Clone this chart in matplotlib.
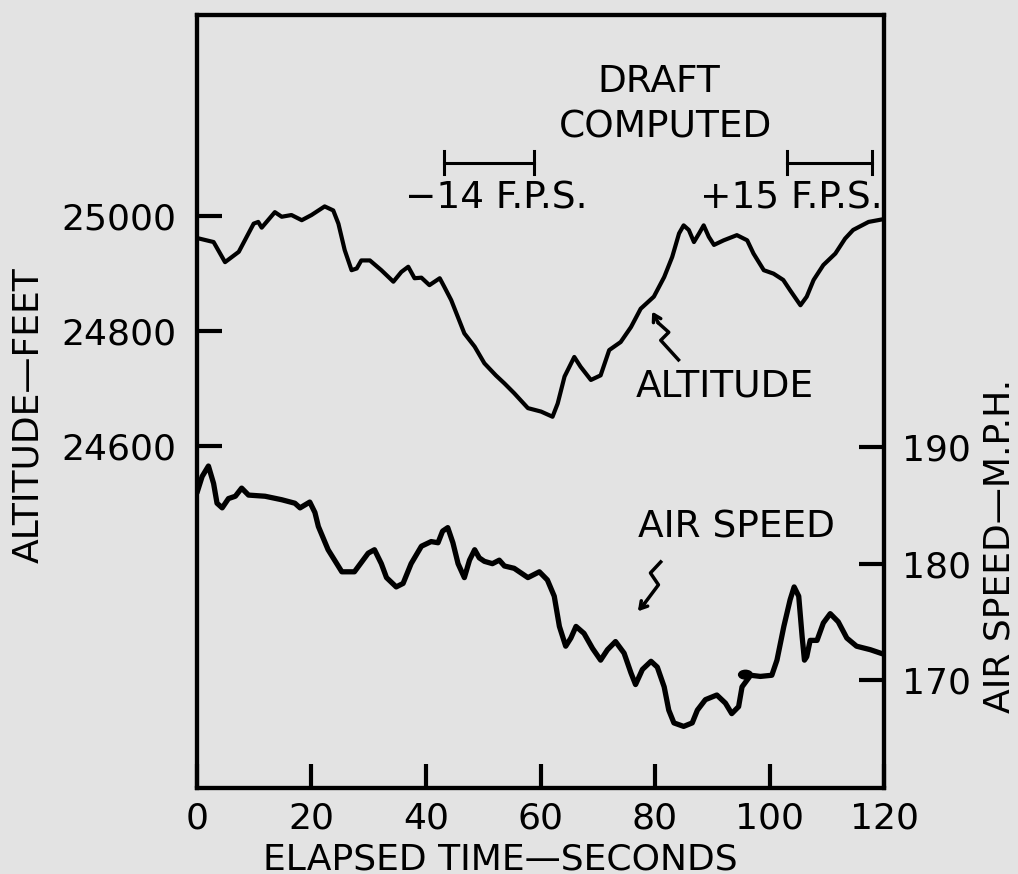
import matplotlib
matplotlib.use('Agg')
from matplotlib.pyplot import figure
from matplotlib.patches import Ellipse

# altitude trace (seconds, feet)
alt_t = [0.0, 2.9, 4.9, 7.3, 9.9, 10.7, 11.3, 13.6, 14.8, 16.5, 18.3, 20.0, 22.3, 23.8,
         24.7, 25.8, 27.0, 27.9, 28.7, 30.2, 32.2, 34.3, 35.7, 36.9, 38.0, 39.2, 40.6,
         42.4, 43.2, 44.4, 46.7, 48.5, 50.2, 52.2, 53.7, 55.4, 57.8, 60.1, 62.1, 63.0,
         64.2, 65.9, 67.0, 68.8, 70.5, 72.0, 74.0, 75.8, 77.5, 79.8, 81.6, 83.0, 84.2,
         85.0, 85.9, 86.8, 87.7, 88.5, 89.4, 90.3, 92.0, 94.3, 96.1, 97.2, 99.0, 100.7,
         102.4, 103.6, 105.4, 106.5, 107.7, 109.4, 111.5, 113.2, 114.6, 117.3, 120.0]
alt_ft = [24962, 24955, 24920, 24938, 24987, 24990, 24980, 25007, 24999, 25002, 24993,
          25002, 25017, 25010, 24987, 24941, 24906, 24909, 24923, 24923, 24906, 24886,
          24903, 24912, 24892, 24893, 24880, 24892, 24877, 24854, 24796, 24773, 24744,
          24723, 24709, 24692, 24666, 24660, 24651, 24674, 24721, 24755, 24738, 24715,
          24723, 24767, 24781, 24807, 24839, 24860, 24894, 24929, 24970, 24984, 24976,
          24955, 24970, 24984, 24964, 24950, 24958, 24967, 24958, 24935, 24906, 24900,
          24889, 24871, 24845, 24860, 24889, 24915, 24935, 24961, 24976, 24990, 24995]

# air speed trace (seconds, mph)
spd_t = [0.0, 0.9, 2.0, 2.9, 3.5, 4.4, 5.5, 6.7, 7.8, 9.0, 11.9, 14.8, 17.1, 18.0, 19.7,
         20.6, 21.2, 22.9, 25.3, 27.5, 29.9, 31.0, 32.2, 33.1, 34.8, 36.0, 37.4, 39.2,
         40.9, 42.1, 42.9, 43.8, 44.7, 45.6, 46.7, 47.6, 48.5, 49.3, 50.2, 51.6, 52.8,
         53.7, 55.4, 57.8, 59.8, 61.2, 62.4, 63.3, 64.4, 65.3, 66.2, 67.6, 69.1, 70.5,
         71.7, 73.1, 74.6, 75.8, 76.6, 77.8, 79.3, 80.4, 81.6, 82.4, 83.3, 85.0, 86.5,
         87.4, 88.8, 90.8, 92.3, 93.4, 94.6, 95.2, 96.7, 98.4, 100.4, 101.3, 102.5, 103.6,
         104.3, 105.1, 105.7, 106.1, 106.5, 107.1, 108.3, 109.4, 110.6, 112.0, 113.5,
         115.2, 117.6, 120.0]
spd_mph = [186.1, 187.5, 188.4, 186.9, 185.2, 184.8, 185.6, 185.8, 186.5, 185.9, 185.8,
           185.5, 185.2, 184.8, 185.3, 184.4, 183.2, 181.2, 179.3, 179.3, 180.9, 181.2,
           180.0, 178.8, 178.0, 178.3, 180.0, 181.5, 181.9, 181.8, 182.8, 183.1, 181.8,
           180.0, 178.8, 180.3, 181.2, 180.5, 180.2, 180.0, 180.3, 179.8, 179.6, 178.8,
           179.3, 178.6, 177.2, 174.6, 172.9, 173.6, 174.6, 174.0, 172.7, 171.7, 172.6,
           173.3, 172.3, 170.6, 169.6, 170.9, 171.6, 171.1, 169.4, 167.4, 166.3, 166.0,
           166.3, 167.4, 168.3, 168.7, 168.0, 167.1, 167.7, 169.4, 170.4, 170.3, 170.4,
           171.7, 174.6, 176.9, 178.0, 177.2, 173.7, 171.7, 172.0, 173.4, 173.4, 174.9,
           175.7, 175.0, 173.6, 172.9, 172.6, 172.2]

x_ticks = [0, 20, 40, 60, 80, 100, 120]
alt_ticks = [24600, 24800, 25000]
spd_ticks = [170, 180, 190]

# draft intervals marked above the plot (seconds)
draft_neg = [43.2, 58.9]
draft_pos = [103.1, 117.9]

bg = '#e3e3e3'
fs = 26
afs = 27

fig = figure(figsize=(10.18, 8.74), dpi=100, facecolor=bg)
ax = fig.add_axes([0.1935, 0.0984, 0.6749, 0.8844], facecolor=bg)
ax2 = ax.twinx()

ax.plot(alt_t, alt_ft, 'k-', lw=3.0, solid_joinstyle='round', solid_capstyle='round')
ax2.plot(spd_t, spd_mph, 'k-', lw=3.8, solid_joinstyle='round', solid_capstyle='round')
ax2.add_patch(Ellipse((95.8, 170.45), 2.4, 0.75, color='k'))

ax.set_xticks(x_ticks)
ax.set_yticks(alt_ticks)
ax2.set_yticks(spd_ticks)
ax.set_xticklabels([str(v) for v in x_ticks])
ax.set_yticklabels([str(v) for v in alt_ticks])
ax2.set_yticklabels([str(v) for v in spd_ticks])

ax.tick_params(axis='x', direction='in', length=17, width=3, labelsize=fs, pad=10)
ax.tick_params(axis='y', direction='in', length=18, width=3, labelsize=fs, pad=15)
ax2.tick_params(axis='y', direction='in', length=18, width=3, labelsize=fs, pad=13)
for a in (ax, ax2):
    for s in a.spines.values():
        s.set_linewidth(3)

# axis titles
fig.text(28 / 1018, 1 - 415 / 874, 'ALTITUDE\u2014FEET', rotation=90, ha='center',
         va='center', fontsize=fs)
fig.text(1000 / 1018, 1 - 546 / 874, 'AIR SPEED\u2014M.P.H.', rotation=90, ha='center',
         va='center', fontsize=fs)
fig.text(500 / 1018, 1 - 859 / 874, 'ELAPSED TIME\u2014SECONDS', ha='center',
         va='center', fontsize=fs)

# draft annotations
ax.text(80.6, 25233, 'DRAFT', ha='center', va='center', fontsize=afs)
ax.text(81.9, 25155, 'COMPUTED', ha='center', va='center', fontsize=afs)
for x0, x1 in (draft_neg, draft_pos):
    ax.plot([x0, x1], [25092, 25092], 'k-', lw=2.2)
    ax.plot([x0, x0], [25073, 25113], 'k-', lw=2.2)
    ax.plot([x1, x1], [25073, 25113], 'k-', lw=2.2)
ax.text(52.2, 25031, '\u221214 F.P.S.', ha='center', va='center', fontsize=afs)
ax.text(103.8, 25031, '+15 F.P.S.', ha='center', va='center', fontsize=afs)

# curve labels with squiggle arrows
ax.text(92.1, 24703, 'ALTITUDE', ha='center', va='center', fontsize=afs)
ax.plot([84.1, 81.0, 82.4, 80.6], [24750, 24784, 24798, 24814], 'k-', lw=2.5,
        solid_joinstyle='round')
ax.annotate('', xy=(79.5, 24834), xytext=(80.6, 24814),
            arrowprops=dict(arrowstyle='->,head_length=0.5,head_width=0.3', lw=2.5,
                            color='k', shrinkA=0, shrinkB=0))
ax2.text(94.2, 183.1, 'AIR SPEED', ha='center', va='center', fontsize=afs)
ax2.plot([81.0, 79.2, 80.6, 78.2], [180.15, 179.2, 178.18, 176.6], 'k-', lw=2.5,
         solid_joinstyle='round')
ax2.annotate('', xy=(77.0, 175.9), xytext=(78.2, 176.6),
             arrowprops=dict(arrowstyle='->,head_length=0.5,head_width=0.3', lw=2.5,
                             color='k', shrinkA=0, shrinkB=0))

ax.set_xlim(0, 120)
ax.set_ylim(24005, 25350)
ax2.set_ylim(160.7, 227.2)

fig.savefig('out.png', dpi=100, facecolor=bg)
